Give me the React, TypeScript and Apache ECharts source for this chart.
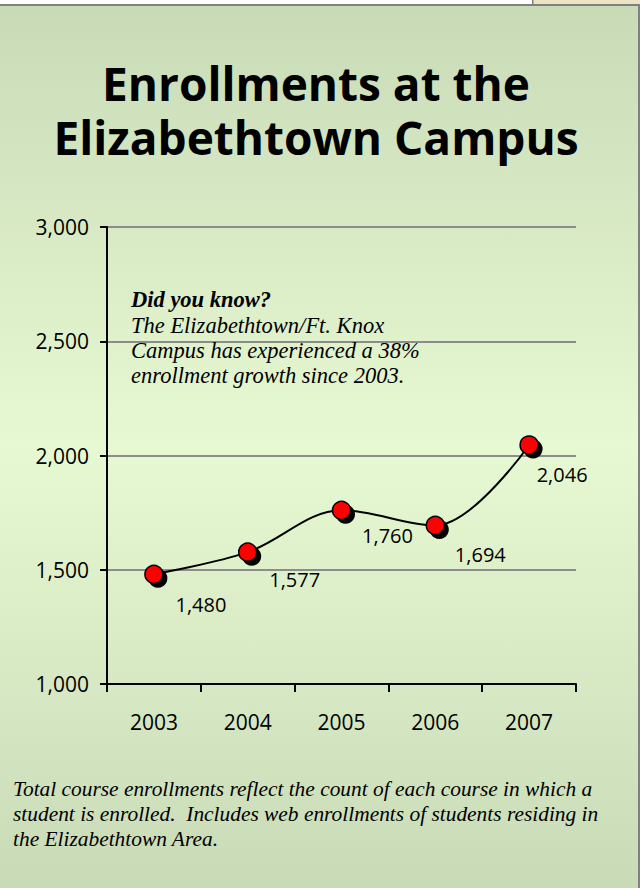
import React, { useEffect, useRef } from "react";
import * as echarts from "echarts";

const years = ["2003", "2004", "2005", "2006", "2007"];
const enrollments = [1480, 1577, 1760, 1694, 2046];
const yMin = 1000;
const yMax = 3000;
const yStep = 500;

const titleLines = ["Enrollments at the", "Elizabethtown Campus"];
const noteHeading = "Did you know?";
const noteLines = [
  "The Elizabethtown/Ft. Knox",
  "Campus has experienced a 38%",
  "enrollment growth since 2003.",
];
const footnoteLines = [
  "Total course enrollments reflect the count of each course in which a",
  "student is enrolled.  Includes web enrollments of students residing in",
  "the Elizabethtown Area.",
];

// label placement (style only)
const labelOffsets = [
  [47, 30],
  [47, 27],
  [46, 25],
  [45, 29],
  [33, 30],
];

const fmt = (v: number) => Number(v).toLocaleString("en-US");

export default function App() {
  const ref = useRef<HTMLDivElement>(null);
  useEffect(() => {
    if (!ref.current) return;
    const chart = echarts.init(ref.current, undefined, { renderer: "svg" });
    const sans = '"Open Sans", "Noto Sans", sans-serif';
    const serif = '"Liberation Serif", "DejaVu Serif", serif';
    const graphic: any[] = [
      {
        type: "rect",
        z: -10,
        shape: { x: 0, y: 5, width: 640, height: 883 },
        style: {
          fill: {
            type: "linear",
            x: 0,
            y: 0,
            x2: 0,
            y2: 1,
            colorStops: [
              { offset: 0, color: "#c9dab7" },
              { offset: 0.5, color: "#e7f9d2" },
              { offset: 1, color: "#c9dab7" },
            ],
          },
        },
      },
      { type: "rect", z: 10, shape: { x: 0, y: 4, width: 640, height: 2 }, style: { fill: "#808080" } },
      { type: "rect", z: 10, shape: { x: 533, y: 0, width: 107, height: 4 }, style: { fill: "#ece4c4" } },
      { type: "rect", z: 10, shape: { x: 532, y: 0, width: 1.5, height: 5 }, style: { fill: "#808080" } },
      { type: "rect", z: 10, shape: { x: 638, y: 4, width: 2, height: 884 }, style: { fill: "#808080" } },
      {
        type: "text",
        z: 10,
        x: 316,
        y: 110,
        style: {
          text: titleLines.join("\n"),
          font: `bold 46px ${sans}`,
          lineHeight: 54,
          fill: "#000",
          textAlign: "center",
          textVerticalAlign: "middle",
        },
      },
    ];
    graphic.push({
      type: "text",
      z: 10,
      x: 131,
      y: 299,
      style: {
        text: noteHeading,
        font: `italic bold 22.5px ${serif}`,
        fill: "#000",
        textAlign: "left",
        textVerticalAlign: "middle",
      },
    });
    noteLines.forEach((t, i) => {
      graphic.push({
        type: "text",
        z: 10,
        x: 131,
        y: 325 + i * 25,
        style: {
          text: t,
          font: `italic 22.5px ${serif}`,
          fill: "#000",
          textAlign: "left",
          textVerticalAlign: "middle",
        },
      });
    });
    footnoteLines.forEach((t, i) => {
      graphic.push({
        type: "text",
        z: 10,
        x: 13,
        y: 789 + i * 25,
        style: {
          text: t,
          font: `italic 21.4px ${serif}`,
          fill: "#000",
          textAlign: "left",
          textVerticalAlign: "middle",
        },
      });
    });

    chart.setOption({
      animation: false,
      backgroundColor: "#ffffff",
      graphic,
      grid: { left: 107, right: 64, top: 227, bottom: 204, containLabel: false },
      xAxis: {
        type: "category",
        data: years,
        boundaryGap: true,
        axisLine: { lineStyle: { color: "#000", width: 2 } },
        axisTick: { show: true, length: 8, lineStyle: { color: "#000", width: 2 } },
        axisLabel: { color: "#000", fontSize: 21, fontFamily: sans, margin: 27 },
        splitLine: { show: false },
      },
      yAxis: {
        type: "value",
        min: yMin,
        max: yMax,
        interval: yStep,
        axisLine: { show: true, lineStyle: { color: "#000", width: 2 } },
        axisTick: { show: true, length: 7, lineStyle: { color: "#000", width: 2 } },
        axisLabel: { color: "#000", fontSize: 21, fontFamily: sans, margin: 18, formatter: (v: number) => fmt(v) },
        splitLine: { show: true, lineStyle: { color: "#8c8c8c", width: 2 } },
      },
      series: [
        {
          type: "line",
          data: enrollments,
          smooth: 0.35,
          symbol: "none",
          lineStyle: { color: "#000", width: 2 },
          z: 2,
          silent: true,
        },
        {
          type: "scatter",
          data: enrollments,
          symbol: "circle",
          symbolSize: 19,
          symbolOffset: [4, 4],
          itemStyle: { color: "#000", opacity: 1 },
          z: 3,
          silent: true,
        },
        {
          type: "scatter",
          data: enrollments.map((v, i) => ({ value: v, label: { offset: labelOffsets[i] } })),
          symbol: "circle",
          symbolSize: 18,
          itemStyle: { color: "#ff0000", borderColor: "#000", borderWidth: 1.5, opacity: 1 },
          label: {
            show: true,
            position: "inside",
            color: "#000",
            fontSize: 20,
            fontFamily: sans,
            formatter: (p: any) => fmt(p.value),
          },
          z: 4,
          silent: true,
        },
      ],
    });
    return () => chart.dispose();
  }, []);
  return (
    <div
      ref={ref}
      style={{ position: "fixed", left: 0, top: 0, width: 640, height: 888 }}
    />
  );
}
